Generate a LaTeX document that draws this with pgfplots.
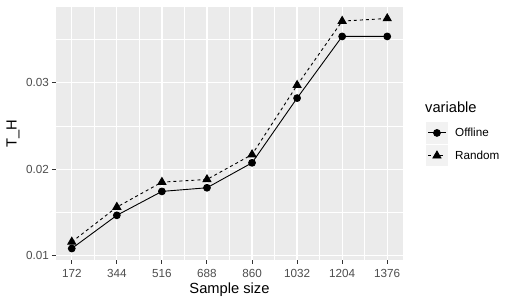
\documentclass[border=0pt]{standalone}
\usepackage{pgfplots}
\pgfplotsset{compat=1.18}
\usepackage{fontspec}
\setmainfont{Liberation Sans}
\definecolor{panelgray}{HTML}{EBEBEB}
\definecolor{keygray}{HTML}{F2F2F2}
\definecolor{ticktext}{HTML}{4D4D4D}
\definecolor{tickmark}{HTML}{333333}
\pgfplotstableread{
x Offline Random
172 0.01085 0.01161
344 0.01468 0.01563
516 0.01744 0.01851
688 0.01786 0.01882
860 0.02074 0.02169
1032 0.02821 0.02970
1204 0.03533 0.03710
1376 0.03533 0.03740
}\datatable
\begin{document}
\begin{tikzpicture}
\path[use as bounding box] (-56bp,-46bp) rectangle (462bp,260bp);
\begin{axis}[
  at={(0,0)}, anchor=south west,
  scale only axis, width=347bp, height=253bp,
  xmin=111.8, xmax=1436.2,
  ymin=0.0095225, ymax=0.0387275,
  axis background/.style={fill=panelgray},
  axis line style={draw=none},
  tick pos=left, tick align=outside,
  major tick length=4bp, minor tick length=0pt,
  every tick/.style={tickmark, line width=1bp},
  xtick={172,344,516,688,860,1032,1204,1376},
  xticklabels={172,344,516,688,860,1032,1204,1376},
  minor xtick={258,430,602,774,946,1118,1290},
  ytick={0.01,0.02,0.03},
  yticklabels={0.01,0.02,0.03},
  minor ytick={0.015,0.025,0.035},
  grid=both,
  major grid style={white, line width=1.2bp},
  minor grid style={white, line width=0.6bp},
  ticklabel style={font=\fontsize{11.7bp}{14bp}\selectfont, text=ticktext},
  xticklabel style={anchor=north, inner sep=0pt, yshift=-5bp},
  yticklabel style={anchor=east, inner sep=0pt, xshift=-3bp},
  xlabel={Sample size},
  ylabel={T\_H},
  label style={font=\fontsize{14.7bp}{17bp}\selectfont},
  xlabel style={at={(axis description cs:0.5,-0.134)}, anchor=base},
  ylabel style={at={(axis description cs:-0.124,0.5)}, anchor=center, rotate=0},
  legend style={at={(axis description cs:1.0663,0.5455)}, anchor=north west,
    draw=none, fill=none, inner sep=0pt, row sep=1.3bp,
    font=\fontsize{11.7bp}{14bp}\selectfont,
    nodes={anchor=west, inner sep=0pt}},
  legend cell align=left,
  legend image code/.code={%
    \path[fill=keygray, draw=none] (0bp,-10.75bp) rectangle (21.5bp,10.75bp);
    \draw[mark repeat=2,mark phase=2,#1] plot coordinates {(2bp,0bp) (10.75bp,0bp) (19.5bp,0bp)};
    \path[draw=none, fill=none] (0bp,0bp) -- (29bp,0bp);
  },
]
\addplot[black, line width=0.9bp, mark=*, mark size=3.4bp, mark options={solid}] table[x=x, y=Offline] {\datatable};
\addlegendentry{Offline}
\addplot[black, line width=0.9bp, dash pattern=on 3bp off 3bp, mark=triangle*, mark size=4.6bp, mark options={solid}] table[x=x, y=Random] {\datatable};
\addlegendentry{Random}
\end{axis}
\node[anchor=base west, font=\fontsize{14.7bp}{17bp}\selectfont, inner sep=0pt] at (369bp,147bp) {variable};
\end{tikzpicture}
\end{document}
